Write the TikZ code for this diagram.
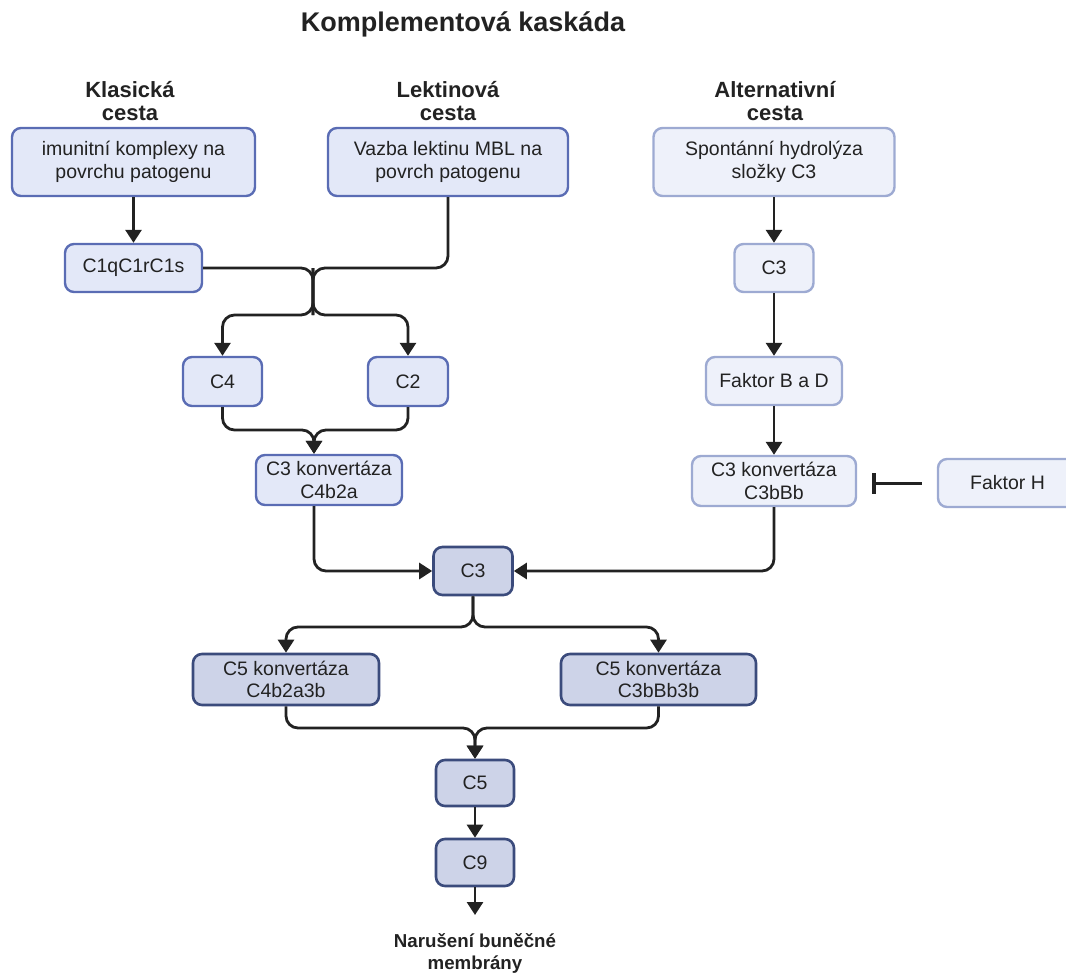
\documentclass[tikz,border=0pt]{standalone}
\usepackage{fontspec}
\setmainfont{Liberation Sans}
\usetikzlibrary{arrows.meta}
\definecolor{clsF}{HTML}{E3E8F8}
\definecolor{clsD}{HTML}{5A6CB4}
\definecolor{altF}{HTML}{EEF1FA}
\definecolor{altD}{HTML}{9DAAD2}
\definecolor{comF}{HTML}{CDD3E8}
\definecolor{comD}{HTML}{3B4B7C}
\definecolor{ink}{HTML}{222222}
\begin{document}
\begin{tikzpicture}[x=1pt,y=-1pt,
  box/.style={rounded corners=9pt, line width=2.4pt, inner sep=0pt, align=center, text=ink, font=\fontsize{19.5}{22.5}\selectfont},
  cls/.style={box, fill=clsF, draw=clsD},
  alt/.style={box, fill=altF, draw=altD},
  com/.style={box, fill=comF, draw=comD, line width=2.6pt},
  head/.style={align=center, text=ink, font=\bfseries\fontsize{22}{23.5}\selectfont},
  conn/.style={draw=ink, line width=2.8pt, rounded corners=12pt},
  arr/.style={conn, -{Triangle[width=16pt,length=13pt]}},
  inh/.style={draw=ink, line width=3pt, -{Bar[width=21pt,line width=3.5pt]}},
]
\useasboundingbox (0,0) rectangle (1066,974);

\node[text=ink, font=\bfseries\fontsize{27}{30}\selectfont] (title) at (463,24) {Komplementová kaskáda};
\node[head] (hk) at (130,101) {Klasická\\cesta};
\node[head] (hl) at (448,101) {Lektinová\\cesta};
\node[head] (ha) at (775,101) {Alternativní\\cesta};

% classical / lectin
\node[cls, minimum width=243pt, minimum height=68pt] (imun) at (133.5,162) {imunitní komplexy na\\povrchu patogenu};
\node[cls, minimum width=240pt, minimum height=68pt] (vazba) at (448,162) {Vazba lektinu MBL na\\povrch patogenu};
\node[cls, minimum width=137pt, minimum height=48pt] (c1q) at (133.5,268) {C1qC1rC1s};
\node[cls, minimum width=79pt, minimum height=49pt] (c4) at (222.5,381.5) {C4};
\node[cls, minimum width=80pt, minimum height=49pt] (c2) at (408,381.5) {C2};
\node[cls, minimum width=146pt, minimum height=50pt] (c3a) at (329,480) {C3 konvertáza\\C4b2a};

% alternative
\node[alt, minimum width=241pt, minimum height=68pt] (spont) at (774,162) {Spontánní hydrolýza\\složky C3};
\node[alt, minimum width=79pt, minimum height=48pt] (c3alt) at (774,268) {C3};
\node[alt, minimum width=136pt, minimum height=48pt] (fbd) at (774,381) {Faktor B a D};
\node[alt, minimum width=164pt, minimum height=50pt] (c3b) at (774,481) {C3 konvertáza\\C3bBb};
\node[alt, minimum width=139pt, minimum height=48pt] (fh) at (1007.5,483) {Faktor H};

% common
\node[com, minimum width=79pt, minimum height=48pt] (c3) at (473,571) {C3};
\node[com, minimum width=186pt, minimum height=51pt] (c5a) at (286,679.5) {C5 konvertáza\\C4b2a3b};
\node[com, minimum width=195pt, minimum height=51pt] (c5b) at (658.5,679.5) {C5 konvertáza\\C3bBb3b};
\node[com, minimum width=78pt, minimum height=46pt] (c5) at (475,783) {C5};
\node[com, minimum width=78pt, minimum height=47pt] (c9) at (475,862.5) {C9};
\node[align=center, text=ink, font=\bfseries\fontsize{18.7}{22}\selectfont] (naru) at (475,953) {Narušení buněčné\\membrány};

% connectors classical / lectin
\draw[arr] (imun) -- (c1q);
\coordinate (jA) at (313,268);
\coordinate (jB) at (313,315);
\draw[conn] (c1q.east) -| (jB);
\draw[conn] (vazba.south) |- (jA) -- (jB);
\draw[arr] (jA) -- (jB) -| (c4.north);
\draw[arr] (jA) -- (jB) -| (c2.north);
\coordinate (jC) at (314,430);
\draw[arr] (c4.south) |- (jC) -- (jC |- c3a.north);
\draw[arr] (c2.south) |- (jC) -- (jC |- c3a.north);
\draw[arr] (jC |- c3a.south) |- (c3.west);

% alternative connectors
\draw[arr] (spont) -- (c3alt);
\draw[arr] (c3alt) -- (fbd);
\draw[arr] (fbd) -- (c3b);
\draw[arr] (c3b.south) |- (c3.east);
\draw[inh, shorten <=15pt, shorten >=15pt] (fh.west) -- (fh.west -| c3b.east);

% common connectors
\coordinate (jD) at (473,627);
\draw[arr] (c3.south) -- (jD) -| (c5a.north);
\draw[arr] (c3.south) -- (jD) -| (c5b.north);
\coordinate (jE) at (475,728);
\draw[arr] (c5a.south) |- (jE) -- (c5.north);
\draw[arr] (c5b.south) |- (jE) -- (c5.north);
\draw[arr] (c5) -- (c9);
\coordinate (endp) at (475,915);
\draw[arr] (c9) -- (endp);
\end{tikzpicture}
\end{document}
